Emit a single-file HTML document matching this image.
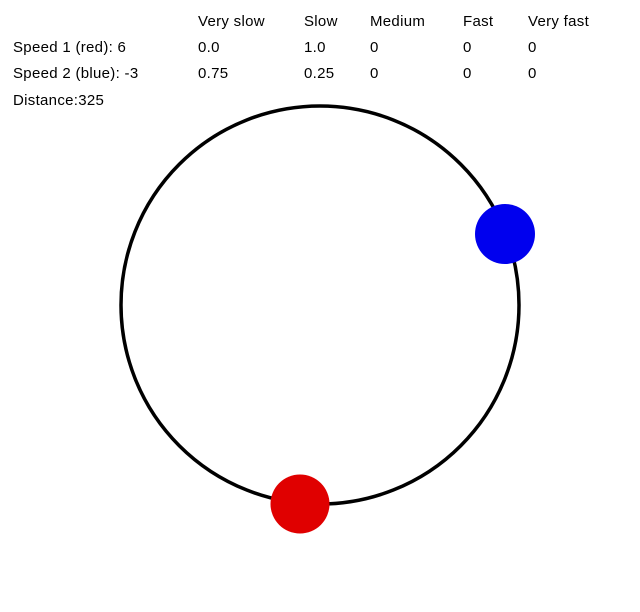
<!DOCTYPE html>
<html><head><style>html,body{margin:0;padding:0;background:#fff}svg{display:block}</style></head><body>
<svg width="640" height="612" xmlns="http://www.w3.org/2000/svg" font-family="Liberation Sans, Arial, sans-serif" font-size="15" letter-spacing="0.3" fill="#000">
<text x="198" y="26">Very slow</text><text x="304" y="26">Slow</text><text x="370" y="26">Medium</text><text x="463" y="26">Fast</text><text x="528" y="26">Very fast</text>
<text x="13" y="52">Speed 1 (red): 6</text><text x="198" y="52">0.0</text><text x="304" y="52">1.0</text><text x="370" y="52">0</text><text x="463" y="52">0</text><text x="528" y="52">0</text>
<text x="13" y="78">Speed 2 (blue): -3</text><text x="198" y="78">0.75</text><text x="304" y="78">0.25</text><text x="370" y="78">0</text><text x="463" y="78">0</text><text x="528" y="78">0</text>
<text x="13" y="105">Distance:325</text>
<circle cx="320" cy="305" r="199" fill="none" stroke="#000" stroke-width="3.5"/>
<circle cx="505" cy="234" r="30" fill="#0000ee"/>
<circle cx="300" cy="504" r="29.5" fill="#e00000"/>
</svg>
</body></html>
